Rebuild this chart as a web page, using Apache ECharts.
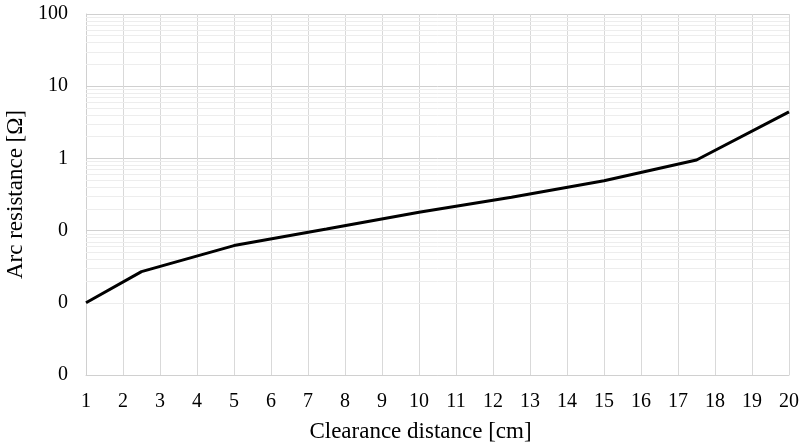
<!DOCTYPE html>
<html>
<head>
<meta charset="utf-8">
<script src="https://cdn.jsdelivr.net/npm/echarts@6/dist/echarts.min.js"></script>
<style>
  html, body { margin: 0; padding: 0; background: #ffffff; }
  #chart { width: 799px; height: 445px; }
</style>
</head>
<body>
<div id="chart"></div>
<script>
// Clearance distance [cm] and measured arc resistance [Ω]
const clearance = [1, 2.5, 5, 7.5, 10, 12.5, 15, 17.5, 20];
const arcResistance = [0.01, 0.027, 0.062, 0.105, 0.18, 0.29, 0.49, 0.95, 4.4];

// Log-scale minor gridline multipliers within each decade
const decades = [0.001, 0.01, 0.1, 1, 10];
const minorSteps = [2, 3, 4, 5, 6, 7, 8, 9];

const minorLines = [];
decades.forEach(d => minorSteps.forEach(m => minorLines.push({ yAxis: d * m })));

const seriesData = clearance.map((x, i) => [x, arcResistance[i]]);
const serif = 'Liberation Serif';

const chart = echarts.init(document.getElementById('chart'), null, { renderer: 'canvas' });
chart.setOption({
  animation: false,
  backgroundColor: '#ffffff',
  grid: { left: 86, right: 10, top: 14, bottom: 70, containLabel: false, outerBoundsMode: 'none' },
  xAxis: {
    type: 'value',
    min: 1,
    max: 20,
    interval: 1,
    name: 'Clearance distance [cm]',
    nameLocation: 'middle',
    nameGap: 45,
    nameTextStyle: { fontFamily: serif, fontSize: 23, color: '#000', padding: [0, 34, 0, 0] },
    axisLine: { show: true, lineStyle: { color: '#d0d0d0', width: 1 } },
    axisTick: { show: false },
    axisLabel: { fontFamily: serif, fontSize: 20, color: '#000', margin: 17 },
    splitLine: { show: true, lineStyle: { color: '#d9d9d9', width: 1 } }
  },
  yAxis: {
    type: 'log',
    logBase: 10,
    min: 0.001,
    max: 100,
    splitNumber: 5,
    name: 'Arc resistance [Ω]',
    nameLocation: 'middle',
    nameGap: 57,
    nameTextStyle: { fontFamily: serif, fontSize: 23, color: '#000' },
    axisLine: { show: true, lineStyle: { color: '#d0d0d0', width: 1 } },
    axisTick: { show: false },
    axisLabel: {
      fontFamily: serif, fontSize: 20, color: '#000', margin: 18,
      formatter: v => String(Math.round(v))
    },
    splitLine: { show: true, lineStyle: { color: '#d0d0d0', width: 1 } }
  },
  series: [
    {
      type: 'line',
      data: [],
      silent: true,
      z: 1,
      markLine: {
        silent: true,
        symbol: ['none', 'none'],
        label: { show: false },
        lineStyle: { color: '#ededed', width: 1, type: 'solid' },
        emphasis: { disabled: true },
        data: minorLines
      }
    },
    {
      type: 'line',
      data: seriesData,
      z: 5,
      showSymbol: false,
      smooth: false,
      lineStyle: { color: '#000000', width: 3 },
      clip: true
    }
  ]
});
</script>
</body>
</html>
